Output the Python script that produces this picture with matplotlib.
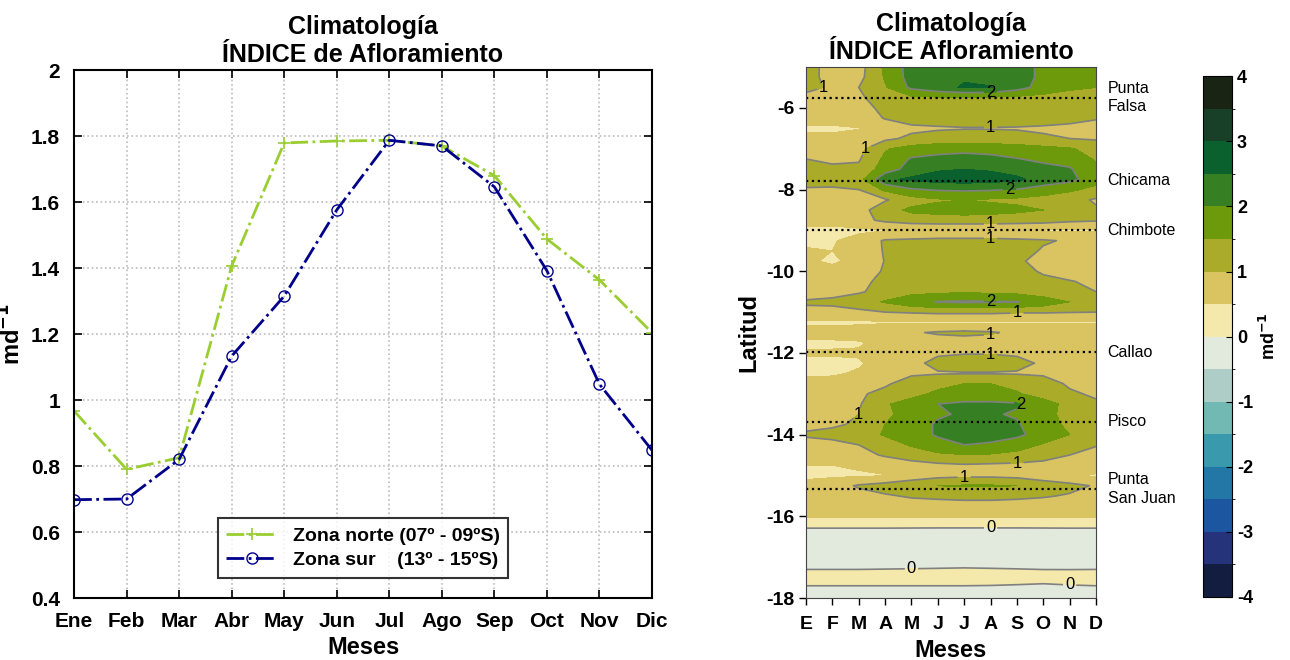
import numpy as np
import matplotlib
matplotlib.use("Agg")
import matplotlib.pyplot as plt
from matplotlib.colors import ListedColormap, BoundaryNorm

plt.rcParams['font.family'] = ['Liberation Sans', 'DejaVu Sans']
plt.rcParams['axes.unicode_minus'] = False

# ---- datos panel izquierdo ----
meses = ['Ene', 'Feb', 'Mar', 'Abr', 'May', 'Jun', 'Jul', 'Ago', 'Sep', 'Oct', 'Nov', 'Dic']
zona_norte = [0.967, 0.79, 0.825, 1.406, 1.779, 1.785, 1.787, 1.77, 1.68, 1.488, 1.364, 1.204]
zona_sur = [0.698, 0.70, 0.82, 1.133, 1.315, 1.576, 1.787, 1.77, 1.646, 1.392, 1.048, 0.848]

# ---- datos panel derecho ----
meses_cortos = ['E', 'F', 'M', 'A', 'M', 'J', 'J', 'A', 'S', 'O', 'N', 'D']
latitudes = [-5.0, -5.25, -5.5, -5.75, -6.0, -6.25, -6.5, -6.75, -7.0, -7.25, -7.5, -7.75,
             -8.0, -8.25, -8.5, -8.75, -9.0, -9.25, -9.5, -9.75, -10.0, -10.25, -10.5,
             -10.75, -11.0, -11.25, -11.5, -11.75, -12.0, -12.25, -12.5, -12.75, -13.0,
             -13.25, -13.5, -13.75, -14.0, -14.25, -14.5, -14.75, -15.0, -15.25, -15.5,
             -15.75, -16.0, -16.5, -17.0, -17.25, -17.5, -17.75, -18.0]
indice = [
    [1.2, 0.8, 0.8, 1.6, 2.2, 2.3, 2.35, 2.3, 2.2, 1.9, 1.7, 1.6],
    [1.15, 0.85, 0.85, 1.55, 2.2, 2.4, 2.45, 2.4, 2.2, 1.9, 1.7, 1.55],
    [1.1, 0.95, 1.0, 1.45, 2.1, 2.35, 2.55, 2.52, 2.2, 1.8, 1.6, 1.5],
    [0.9, 0.9, 0.95, 1.15, 1.4, 1.45, 1.45, 1.45, 1.4, 1.35, 1.25, 1.15],
    [0.8, 0.8, 0.85, 1.1, 1.3, 1.35, 1.35, 1.35, 1.3, 1.25, 1.2, 1.1],
    [0.7, 0.7, 0.8, 1.02, 1.2, 1.2, 1.2, 1.2, 1.2, 1.15, 1.1, 1.02],
    [0.42, 0.42, 0.48, 0.8, 0.9, 0.95, 0.98, 0.98, 0.97, 0.95, 0.92, 0.9],
    [0.6, 0.6, 0.7, 0.9, 1.1, 1.2, 1.2, 1.2, 1.15, 1.05, 1.0, 0.95],
    [0.85, 0.8, 0.85, 1.45, 1.7, 1.8, 1.85, 1.8, 1.75, 1.65, 1.55, 1.3],
    [1.0, 0.95, 0.95, 1.6, 2.05, 2.15, 2.2, 2.15, 2.02, 1.9, 1.8, 1.45],
    [1.1, 1.05, 1.1, 1.75, 2.2, 2.45, 2.5, 2.45, 2.3, 2.15, 2.05, 1.6],
    [1.2, 1.15, 1.3, 2.4, 2.6, 2.7, 2.75, 2.7, 2.6, 2.3, 2.15, 1.7],
    [0.95, 0.95, 1.0, 1.6, 1.95, 2.05, 2.08, 2.05, 1.98, 1.8, 1.6, 1.35],
    [0.8, 0.8, 0.85, 0.95, 1.3, 1.45, 1.5, 1.45, 1.4, 1.3, 1.15, 0.95],
    [0.75, 0.75, 0.8, 1.3, 1.6, 1.65, 1.7, 1.65, 1.6, 1.5, 1.2, 1.05],
    [0.7, 0.7, 0.85, 1.1, 1.25, 1.3, 1.3, 1.3, 1.25, 1.2, 1.1, 1.05],
    [0.35, 0.35, 0.4, 0.48, 0.48, 0.48, 0.48, 0.48, 0.48, 0.47, 0.45, 0.45],
    [0.4, 0.45, 0.7, 1.05, 1.1, 1.15, 1.15, 1.15, 1.1, 1.05, 0.95, 0.85],
    [0.55, 0.5, 0.6, 1.05, 1.25, 1.3, 1.35, 1.3, 1.2, 0.95, 0.85, 0.8],
    [0.55, 0.45, 0.6, 1.02, 1.3, 1.35, 1.4, 1.35, 1.05, 0.9, 0.8, 0.75],
    [0.6, 0.6, 0.75, 1.05, 1.3, 1.35, 1.4, 1.35, 1.15, 0.95, 0.85, 0.8],
    [0.65, 0.7, 0.9, 1.1, 1.3, 1.35, 1.4, 1.35, 1.25, 1.1, 1.02, 0.93],
    [0.8, 0.85, 0.95, 1.15, 1.35, 1.4, 1.45, 1.4, 1.35, 1.2, 1.1, 1.0],
    [1.05, 1.1, 1.25, 1.55, 1.85, 2.02, 2.06, 2.04, 2.02, 1.8, 1.5, 1.3],
    [0.9, 0.85, 0.9, 1.0, 1.05, 1.1, 1.1, 1.1, 1.05, 1.05, 1.02, 1.0],
    [0.4, 0.4, 0.42, 0.45, 0.45, 0.45, 0.45, 0.45, 0.45, 0.45, 0.45, 0.45],
    [0.7, 0.7, 0.75, 0.85, 0.95, 1.05, 1.1, 1.05, 0.9, 0.85, 0.8, 0.8],
    [0.4, 0.42, 0.45, 0.65, 0.75, 0.8, 0.8, 0.8, 0.75, 0.7, 0.7, 0.7],
    [0.55, 0.55, 0.55, 0.7, 0.85, 0.95, 0.98, 0.98, 0.95, 0.8, 0.7, 0.7],
    [0.4, 0.4, 0.45, 0.7, 0.9, 1.1, 1.15, 1.15, 1.1, 0.95, 0.75, 0.7],
    [0.45, 0.45, 0.55, 0.8, 0.95, 0.97, 0.98, 0.98, 0.97, 0.95, 0.9, 0.85],
    [0.6, 0.65, 0.75, 0.95, 1.15, 1.35, 1.5, 1.5, 1.35, 1.15, 0.95, 0.85],
    [0.7, 0.8, 0.95, 1.1, 1.35, 1.6, 1.65, 1.65, 1.55, 1.3, 1.05, 0.95],
    [0.8, 0.85, 0.95, 1.45, 1.7, 2.0, 2.1, 2.1, 2.05, 1.7, 1.35, 1.05],
    [0.85, 0.9, 1.0, 1.4, 1.7, 1.95, 2.05, 2.05, 1.95, 1.65, 1.35, 1.1],
    [0.9, 0.95, 1.05, 1.5, 1.8, 2.05, 2.15, 2.15, 2.05, 1.7, 1.4, 1.0],
    [1.05, 1.1, 1.25, 1.55, 1.8, 2.05, 2.15, 2.15, 2.1, 1.8, 1.5, 1.2],
    [0.85, 0.9, 1.0, 1.25, 1.55, 1.85, 2.0, 1.95, 1.75, 1.45, 1.2, 1.02],
    [0.75, 0.8, 0.85, 1.05, 1.25, 1.4, 1.48, 1.45, 1.35, 1.2, 1.0, 0.9],
    [0.5, 0.5, 0.55, 0.7, 0.8, 0.9, 0.95, 0.92, 0.9, 0.85, 0.8, 0.75],
    [0.4, 0.42, 0.45, 0.48, 0.7, 0.85, 0.9, 0.9, 0.85, 0.7, 0.55, 0.45],
    [0.65, 0.8, 1.05, 1.2, 1.35, 1.5, 1.55, 1.55, 1.5, 1.3, 1.15, 0.95],
    [0.7, 0.75, 0.85, 0.95, 1.05, 1.1, 1.15, 1.15, 1.1, 1.05, 0.95, 0.8],
    [0.7, 0.7, 0.75, 0.75, 0.8, 0.8, 0.8, 0.8, 0.8, 0.75, 0.75, 0.75],
    [0.55, 0.55, 0.55, 0.55, 0.55, 0.55, 0.55, 0.55, 0.55, 0.55, 0.55, 0.55],
    [-0.4, -0.4, -0.4, -0.4, -0.41, -0.42, -0.42, -0.42, -0.42, -0.41, -0.4, -0.4],
    [-0.3, -0.3, -0.3, -0.3, -0.3, -0.3, -0.3, -0.3, -0.3, -0.3, -0.3, -0.3],
    [-0.05, -0.05, -0.05, -0.04, -0.03, -0.02, -0.01, -0.02, -0.03, -0.04, -0.05, -0.05],
    [0.2, 0.2, 0.2, 0.2, 0.2, 0.2, 0.2, 0.2, 0.18, 0.15, 0.18, 0.2],
    [-0.05, -0.05, -0.05, -0.05, -0.05, -0.05, -0.05, -0.06, -0.08, -0.1, -0.07, -0.05],
    [-0.2, -0.2, -0.2, -0.2, -0.2, -0.2, -0.2, -0.2, -0.2, -0.2, -0.2, -0.2],
]

estaciones = ['Punta\nFalsa', 'Chicama', 'Chimbote', 'Callao', 'Pisco', 'Punta\nSan Juan']
lat_estaciones = [-5.75, -7.78, -9.0, -11.98, -13.68, -15.33]

colores = ['#121d40', '#25347a', '#1c56a0', '#2277a6', '#3a9aad', '#72b9b4',
           '#aecdc6', '#e2e9dd', '#f4e8ab', '#d9c461', '#aaab29', '#6c9a0b',
           '#367f22', '#0b612e', '#183f27', '#1a2414']
niveles = np.arange(-4, 4.01, 0.5)

fig = plt.figure(figsize=(12.9, 6.6), dpi=100)

# ---------------- panel izquierdo ----------------
ax1 = fig.add_axes([0.0574, 0.0939, 0.448, 0.8])
x = np.arange(1, 13)
ax1.plot(x, zona_norte, '-.', color='#9acd32', lw=2, marker='+', ms=9, mew=1.2,
         label='Zona norte (07º - 09ºS)')
ax1.plot(x, zona_sur, '-.', color='#00008b', lw=2, marker='o', ms=8, mfc='none', mew=1,
         label='Zona sur    (13º - 15ºS)')
ax1.set_xlim(1, 12)
ax1.set_ylim(0.4, 2)
ax1.set_xticks(x)
ax1.set_xticklabels(meses)
ax1.set_yticks(np.arange(0.4, 2.01, 0.2))
ax1.set_yticklabels(['0.4', '0.6', '0.8', '1', '1.2', '1.4', '1.6', '1.8', '2'])
ax1.grid(True, ls=':', color='#bbbbbb', lw=1.2)
ax1.tick_params(direction='in', top=True, right=True, length=6, width=1.2, labelsize=15)
ax1.tick_params(axis='x', pad=10)
ax1.tick_params(axis='y', pad=10)
for t in ax1.get_xticklabels() + ax1.get_yticklabels():
    t.set_fontweight('bold')
for s in ax1.spines.values():
    s.set_linewidth(1.5)
ax1.set_xlabel('Meses', fontsize=17, fontweight='bold', labelpad=4)
ax1.set_ylabel('md$^{\\mathbf{-1}}$', fontsize=17, fontweight='bold')
ax1.set_title('Climatología\nÍNDICE de Afloramiento', fontsize=18, fontweight='bold', pad=6)
leg = ax1.legend(loc='lower center', bbox_to_anchor=(0.5, 0.02), fontsize=14,
                 prop={'weight': 'bold', 'size': 14}, frameon=True, fancybox=False,
                 edgecolor='black', handlelength=2.6, borderpad=0.45, labelspacing=0.35)
leg.get_frame().set_linewidth(1.5)

# ---------------- panel derecho ----------------
ax2 = fig.add_axes([0.6248, 0.0939, 0.2248, 0.8045])
cmap = ListedColormap(colores)
norm = BoundaryNorm(niveles, cmap.N)
Z = np.array(indice)
cf = ax2.contourf(x, latitudes, Z, levels=niveles, cmap=cmap, norm=norm)
cs = ax2.contour(x, latitudes, Z, levels=[0, 1, 2], colors='#808080', linewidths=1.2)
etiquetas = ax2.clabel(cs, fmt='%d', fontsize=12, colors='black', inline=True, inline_spacing=2)
for t in etiquetas:
    t.set_rotation(0)
for lat, nombre in zip(lat_estaciones, estaciones):
    ax2.axhline(lat, color='black', ls=':', lw=1.6)
    ax2.text(1.04, lat, nombre, transform=ax2.get_yaxis_transform(), fontsize=11.5,
             va='center', ha='left', linespacing=1.3)
ax2.set_xlim(1, 12)
ax2.set_ylim(-18, -5)
ax2.set_xticks(x)
ax2.set_xticklabels(meses_cortos)
ax2.set_yticks(np.arange(-18, -5, 2))
ax2.tick_params(direction='out', length=5, width=1, labelsize=14)
ax2.tick_params(axis='x', pad=8)
for t in ax2.get_xticklabels() + ax2.get_yticklabels():
    t.set_fontweight('bold')
for s in ax2.spines.values():
    s.set_color('#444444')
ax2.set_xlabel('Meses', fontsize=17, fontweight='bold', labelpad=4)
ax2.set_ylabel('Latitud', fontsize=17, fontweight='bold')
ax2.set_title('Climatología\nÍNDICE Afloramiento', fontsize=18, fontweight='bold', pad=6)

# barra de color
cax = fig.add_axes([0.9326, 0.0955, 0.0225, 0.789])
cb = fig.colorbar(cf, cax=cax, ticks=range(-4, 5))
cb.ax.tick_params(labelsize=13, length=4, direction='in')
for t in cb.ax.get_yticklabels():
    t.set_fontweight('bold')
cb.set_label('md$^{\\mathbf{-1}}$', fontsize=13, fontweight='bold')

fig.savefig('out.png', dpi=100)
